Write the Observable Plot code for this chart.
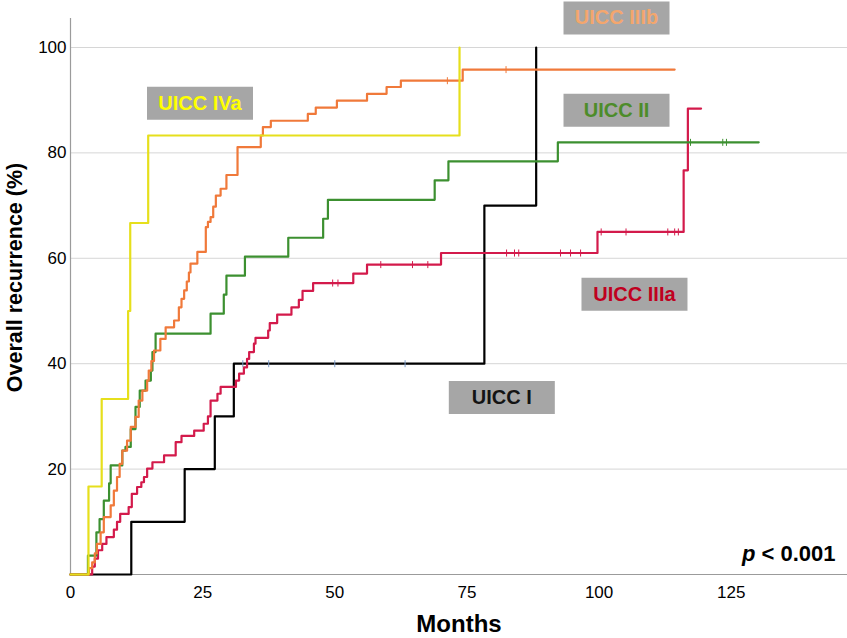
<!DOCTYPE html>
<html><head><meta charset="utf-8">
<script src="https://cdn.jsdelivr.net/npm/d3@7"></script>
<script src="https://cdn.jsdelivr.net/npm/@observablehq/plot@0.6"></script>
<style>body{margin:0;background:#fff} svg{display:block}</style>
</head><body><div id="chart"></div>
<script>
// ---- data ----
const xTicks = [0, 25, 50, 75, 100, 125];
const yTicks = [20, 40, 60, 80, 100];

const groups = ["UICC I", "UICC IIIa", "UICC II", "UICC IIIb", "UICC IVa"];
const lineColors = ["#000000", "#d31a4b", "#3c9030", "#f0793a", "#e6df1c"];

const monthsI = [0, 11.5, 21.6, 27.3, 30.9, 78.3, 88.1];
const pctI    = [0, 10, 20, 30, 40, 70, 100];

const monthsIIIa = [0, 4.1, 4.6, 5.2, 6.0, 6.8, 8.2, 8.8, 9.4, 11.0, 11.6, 12.6, 13.4, 13.9, 14.5, 15.5, 17.7, 19.9, 21.0, 23.4, 25.2, 26.0, 26.5, 27.8, 28.4, 31.3, 31.9, 32.8, 33.4, 33.8, 34.7, 35.0, 37.4, 37.7, 39.1, 41.8, 43.2, 43.9, 45.9, 53.5, 56.1, 70.1, 99.7, 116.0, 116.8, 119.3];
const pctIIIa    = [0, 1.5, 3.0, 4.6, 5.8, 7.1, 8.5, 10.0, 11.5, 12.8, 15.3, 16.6, 17.5, 18.5, 20.1, 21.3, 22.6, 25.1, 26.3, 27.3, 28.6, 30.0, 33.0, 34.3, 35.6, 36.8, 38.1, 39.3, 40.9, 42.2, 43.8, 44.9, 46.3, 47.7, 49.3, 50.7, 52.1, 53.8, 55.3, 57.1, 58.8, 61.0, 65.0, 76.7, 88.4, 88.4];

const monthsII = [0, 3.3, 4.9, 5.5, 6.3, 7.3, 7.6, 9.8, 10.4, 11.4, 12.3, 13.1, 14.2, 15.2, 15.5, 16.1, 26.5, 29.0, 29.5, 33.0, 41.2, 47.8, 48.7, 68.9, 71.5, 92.2, 130.2];
const pctII    = [0, 3.6, 8.0, 10.5, 14.0, 17.3, 20.7, 23.5, 24.2, 27.6, 31.8, 34.9, 36.8, 38.7, 42.2, 45.7, 49.5, 53.1, 56.7, 60.3, 63.9, 67.5, 71.1, 74.8, 78.4, 82.0, 82.0];

const monthsIIIb = [0, 3.5, 4.1, 4.6, 5.0, 5.7, 6.3, 7.6, 8.2, 8.8, 9.3, 9.8, 10.7, 11.4, 12.3, 12.9, 13.6, 14.5, 14.8, 15.3, 15.8, 17.0, 18.0, 19.6, 20.5, 21.0, 21.5, 22.0, 22.4, 22.7, 24.0, 25.6, 26.0, 26.5, 27.0, 27.5, 28.4, 29.5, 31.6, 36.0, 36.4, 37.9, 44.9, 46.4, 50.4, 56.1, 59.8, 62.5, 74.2, 114.3];
const pctIIIb    = [0, 1.2, 2.3, 4.0, 5.8, 8.0, 10.9, 13.1, 15.9, 18.5, 21.0, 23.5, 25.4, 28.0, 29.9, 33.0, 34.9, 36.8, 38.7, 40.5, 42.5, 44.7, 46.9, 48.2, 50.7, 52.3, 53.9, 55.6, 57.3, 59.0, 61.2, 65.9, 66.9, 67.8, 69.8, 71.9, 73.2, 75.8, 81.1, 83.3, 84.9, 86.1, 87.4, 88.6, 89.9, 91.2, 92.5, 93.7, 95.8, 95.8];

const monthsIVa = [0, 3.4, 5.9, 10.9, 11.3, 14.7, 73.6];
const pctIVa    = [0, 16.7, 33.3, 50, 66.7, 83.3, 100];

// censored observations (tick marks)
const censorGroup = ["UICC I","UICC I","UICC I","UICC I",
  "UICC IIIa","UICC IIIa","UICC IIIa","UICC IIIa","UICC IIIa","UICC IIIa","UICC IIIa","UICC IIIa","UICC IIIa","UICC IIIa","UICC IIIa","UICC IIIa","UICC IIIa","UICC IIIa","UICC IIIa","UICC IIIa",
  "UICC IIIb","UICC IIIb","UICC II","UICC II","UICC II"];
const censorMonth = [32.6, 37.5, 50.0, 63.3,
  49.6, 50.6, 58.7, 64.7, 67.6, 82.5, 84.0, 84.8, 92.7, 94.6, 96.5, 100.4, 105.1, 113.0, 114.3, 115.0,
  71.3, 82.4, 117.3, 123.4, 124.1];
const censorPct = [40, 40, 40, 40,
  55.3, 55.3, 58.8, 58.8, 58.8, 61.0, 61.0, 61.0, 61.0, 61.0, 61.0, 65.0, 65.0, 65.0, 65.0, 65.0,
  93.7, 95.8, 82.0, 82.0, 82.0];

// group labels
const labelText  = ["UICC IVa", "UICC IIIb", "UICC II", "UICC IIIa", "UICC I"];
const labelMonth = [24.5, 103.3, 103.3, 106.7, 81.6];
const labelPct   = [89.4, 105.6, 88.1, 53.2, 33.6];
const labelColor = ["#ffff00", "#f4a66d", "#4d8c2a", "#c0001f", "#141414"];

// ---- build tables ----
const series = {
  "UICC I": [monthsI, pctI],
  "UICC IIIa": [monthsIIIa, pctIIIa],
  "UICC II": [monthsII, pctII],
  "UICC IIIb": [monthsIIIb, pctIIIb],
  "UICC IVa": [monthsIVa, pctIVa]
};
const colorOf = Object.fromEntries(groups.map((g, i) => [g, lineColors[i]]));
const lineMarks = groups.map(g => {
  const [m, p] = series[g];
  const rows = m.map((v, i) => ({month: v, pct: p[i]}));
  return Plot.line(rows, {x: "month", y: "pct", curve: "step-after", stroke: colorOf[g], strokeWidth: 2.2});
});
const censor = censorMonth.map((m, i) => ({month: m, pct: censorPct[i], group: censorGroup[i]}));
const labels = labelText.map((t, i) => ({text: t, month: labelMonth[i], pct: labelPct[i], color: labelColor[i]}));

const tickSym = {draw(ctx) { ctx.moveTo(0, -3.5); ctx.lineTo(0, 3.5); }};
const boxSym = {draw(ctx) { ctx.rect(-53, -16.5, 106, 33); }};
const font = "'Liberation Sans', Arial, Helvetica, sans-serif";

const chart = Plot.plot({
  width: 847, height: 638,
  marginLeft: 70, marginRight: 0, marginTop: 18, marginBottom: 64,
  style: {fontFamily: font, fontSize: "17px", color: "#000", background: "#fff", overflow: "visible"},
  x: {domain: [0, 147]},
  y: {domain: [0, 105.5]},
  marks: [
    Plot.gridY(yTicks, {stroke: "#d6d6d6", strokeOpacity: 1}),
    Plot.axisX(xTicks, {tickSize: 0, tickPadding: 11, label: null, fontSize: 17}),
    Plot.axisY(yTicks, {tickSize: 0, tickPadding: 4, label: null, fontSize: 17}),
    Plot.ruleX([0], {stroke: "#9b9b9b", strokeWidth: 1.2}),
    Plot.ruleY([0], {stroke: "#9b9b9b", strokeWidth: 1.2}),
    ...lineMarks,
    Plot.dot(censor, {x: "month", y: "pct", symbol: tickSym, r: 3, fill: "none",
      stroke: d => d.group === "UICC I" ? "#7b9bc8" : colorOf[d.group], strokeWidth: 1}),
    Plot.dot(labels, {x: "month", y: "pct", symbol: boxSym, r: 5, fill: "#a6a6a6", stroke: "none"}),
    Plot.text(labels, {x: "month", y: "pct", text: "text", fill: "color", fontWeight: "bold", fontSize: 20}),
    Plot.text(["Overall recurrence (%)"], {frameAnchor: "left", textAnchor: "middle", lineAnchor: "middle", rotate: -90, dx: -55, dy: -19, fontWeight: "bold", fontSize: 21.5}),
    Plot.text(["Months"], {frameAnchor: "bottom", textAnchor: "middle", lineAnchor: "middle", dy: 50, fontWeight: "bold", fontSize: 24}),
    Plot.text(["< 0.001"], {frameAnchor: "bottom-right", textAnchor: "end", lineAnchor: "middle", dx: -12, dy: -21, fontWeight: "bold", fontSize: 22}),
    Plot.text(["p"], {frameAnchor: "bottom-right", textAnchor: "end", lineAnchor: "middle", dx: -92, dy: -21, fontWeight: "bold", fontStyle: "italic", fontSize: 22})
  ]
});
document.getElementById("chart").appendChild(chart);
</script>
</body></html>
